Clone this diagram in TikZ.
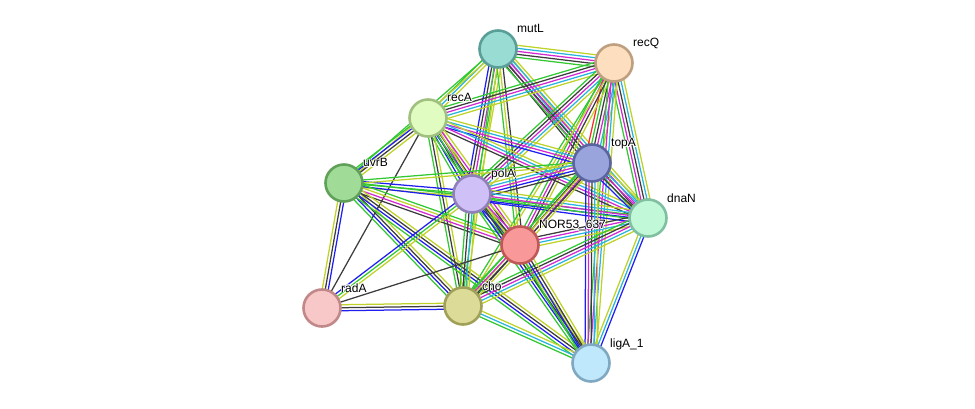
\documentclass[tikz,border=0pt]{standalone}
\usepackage{fontspec}
\setmainfont{Liberation Sans}
\usetikzlibrary{calc,backgrounds}
\definecolor{eG}{RGB}{50,200,50}
\definecolor{eB}{RGB}{30,30,240}
\definecolor{eK}{RGB}{60,60,60}
\definecolor{eM}{RGB}{210,40,210}
\definecolor{eC}{RGB}{40,180,220}
\definecolor{eY}{RGB}{190,210,40}
\definecolor{eR}{RGB}{255,40,40}
\newcommand\edg[3]{%
  \foreach \cc [count=\ii] in {#3}{\xdef\edgN{\ii}}%
  \foreach \cc [count=\ii] in {#3}{%
    \pgfmathsetmacro\off{(\ii-(\edgN+1)/2)*3.0}%
    \draw[edgeline,draw=\cc] ($(#1)!\off pt!90:(#2)$) -- ($(#2)!\off pt!-90:(#1)$);
  }}
\newcommand\hcopy[3]{\rlap{\kern#1\raisebox{#2}{\color{white}#3}}}
\newcommand\halotxt[1]{%
  \hcopy{0.9pt}{0pt}{#1}\hcopy{-0.9pt}{0pt}{#1}\hcopy{0pt}{0.9pt}{#1}\hcopy{0pt}{-0.9pt}{#1}%
  \hcopy{0.65pt}{0.65pt}{#1}\hcopy{-0.65pt}{0.65pt}{#1}\hcopy{0.65pt}{-0.65pt}{#1}\hcopy{-0.65pt}{-0.65pt}{#1}%
  #1}
\begin{document}
\begin{tikzpicture}[x=1pt,y=-1pt,
  prot/.style={circle,minimum size=37pt,inner sep=0pt,line width=2.6pt},
  lab/.style={anchor=base west,font=\fontsize{12}{14}\selectfont,inner sep=0pt},
  edgeline/.style={line width=1.25pt}]
\useasboundingbox (0,0) rectangle (975,409);
\node[prot,fill={rgb,255:red,153;green,220;blue,212},draw={rgb,255:red,90;green,158;blue,152}] (mutL) at (498,49) {};
\node[prot,fill={rgb,255:red,253;green,223;blue,192},draw={rgb,255:red,190;green,160;blue,128}] (recQ) at (614,63) {};
\node[prot,fill={rgb,255:red,224;green,252;blue,192},draw={rgb,255:red,160;green,192;blue,128}] (recA) at (428,118) {};
\node[prot,fill={rgb,255:red,154;green,164;blue,220},draw={rgb,255:red,90;green,100;blue,160}] (topA) at (592,163) {};
\node[prot,fill={rgb,255:red,160;green,220;blue,152},draw={rgb,255:red,96;green,160;blue,88}] (uvrB) at (344,183) {};
\node[prot,fill={rgb,255:red,208;green,192;blue,248},draw={rgb,255:red,144;green,128;blue,184}] (polA) at (472,194) {};
\node[prot,fill={rgb,255:red,192;green,248;blue,216},draw={rgb,255:red,128;green,192;blue,160}] (dnaN) at (648,218) {};
\node[prot,fill={rgb,255:red,248;green,152;blue,152},draw={rgb,255:red,192;green,88;blue,88}] (NOR) at (520,245) {};
\node[prot,fill={rgb,255:red,248;green,200;blue,200},draw={rgb,255:red,192;green,136;blue,136}] (radA) at (322,308) {};
\node[prot,fill={rgb,255:red,220;green,220;blue,152},draw={rgb,255:red,160;green,160;blue,88}] (cho) at (463,306) {};
\node[prot,fill={rgb,255:red,192;green,232;blue,252},draw={rgb,255:red,128;green,168;blue,192}] (ligA) at (591,363) {};
\node[lab] (lmutL) at ($(mutL)+(19,-16)$) {\halotxt{mutL}};
\node[lab] (lrecQ) at ($(recQ)+(19,-16)$) {\halotxt{recQ}};
\node[lab] (lrecA) at ($(recA)+(19,-16)$) {\halotxt{recA}};
\node[lab] (ltopA) at ($(topA)+(19,-16)$) {\halotxt{topA}};
\node[lab] (luvrB) at ($(uvrB)+(19,-16)$) {\halotxt{uvrB}};
\node[lab] (lpolA) at ($(polA)+(19,-16)$) {\halotxt{polA}};
\node[lab] (ldnaN) at ($(dnaN)+(19,-16)$) {\halotxt{dnaN}};
\node[lab] (lNOR) at ($(NOR)+(19,-16)$) {\halotxt{NOR53\_637}};
\node[lab] (lradA) at ($(radA)+(19,-16)$) {\halotxt{radA}};
\node[lab] (lcho) at ($(cho)+(19,-16)$) {\halotxt{cho}};
\node[lab] (lligA) at ($(ligA)+(19,-16)$) {\halotxt{ligA\_1}};
\begin{scope}[on background layer]
\edg{mutL}{recQ}{eG,eK,eM,eC,eY}
\edg{mutL}{recA}{eG,eC,eY}
\edg{mutL}{uvrB}{eG,eY}
\edg{mutL}{polA}{eB,eK,eM,eG,eY}
\edg{mutL}{topA}{eK,eM,eC,eY}
\edg{mutL}{dnaN}{eG,eK,eM,eC,eY}
\edg{mutL}{NOR}{eG,eY,eK}
\edg{mutL}{cho}{eG,eY}
\edg{recQ}{recA}{eG,eK,eM,eC,eY}
\edg{recQ}{polA}{eG,eK,eM,eC,eY}
\edg{recQ}{topA}{eR,eG,eK,eM,eC,eY}
\edg{recQ}{dnaN}{eG,eM,eK,eC,eY}
\edg{recQ}{NOR}{eG,eM,eK,eY}
\edg{recQ}{cho}{eG,eY}
\edg{recQ}{ligA}{eG,eM,eC,eY}
\edg{recA}{uvrB}{eG,eB,eK,eY}
\edg{recA}{polA}{eG,eB,eK,eM,eY}
\edg{recA}{topA}{eB,eM,eC,eY}
\edg{recA}{dnaN}{eK,eM,eC,eY}
\edg{recA}{NOR}{eG,eB,eK,eM,eY}
\edg{recA}{cho}{eG,eK,eY}
\edg{recA}{radA}{eK}
\edg{recA}{ligA}{eG,eY}
\edg{uvrB}{polA}{eY,eG,eB}
\edg{uvrB}{topA}{eY,eG}
\edg{uvrB}{dnaN}{eB,eG}
\edg{uvrB}{NOR}{eK,eM,eY,eG}
\edg{uvrB}{cho}{eG,eB,eK,eY}
\edg{uvrB}{radA}{eY,eK,eB}
\edg{uvrB}{ligA}{eG,eB,eK,eY}
\edg{polA}{topA}{eK,eB,eM,eC,eY}
\edg{polA}{dnaN}{eB,eG,eM,eC,eY}
\edg{polA}{NOR}{eG,eB,eK,eM,eY}
\edg{polA}{cho}{eG,eK,eC,eY}
\edg{polA}{radA}{eB,eG,eY}
\edg{polA}{ligA}{eG,eB,eK,eY}
\edg{topA}{dnaN}{eB,eK,eM,eC,eY}
\edg{topA}{NOR}{eG,eK,eM,eY}
\edg{topA}{cho}{eG,eY,eK}
\edg{topA}{ligA}{eB,eM,eK,eC,eY}
\edg{dnaN}{NOR}{eK,eM,eC,eY}
\edg{dnaN}{cho}{eG,eK,eM,eC,eY}
\edg{dnaN}{ligA}{eY,eC,eB}
\edg{NOR}{cho}{eG,eM,eK,eY}
\edg{NOR}{radA}{eK}
\edg{NOR}{ligA}{eG,eB,eK,eY}
\edg{cho}{radA}{eY,eK,eB}
\edg{cho}{ligA}{eG,eC,eY}
\end{scope}
\end{tikzpicture}
\end{document}
